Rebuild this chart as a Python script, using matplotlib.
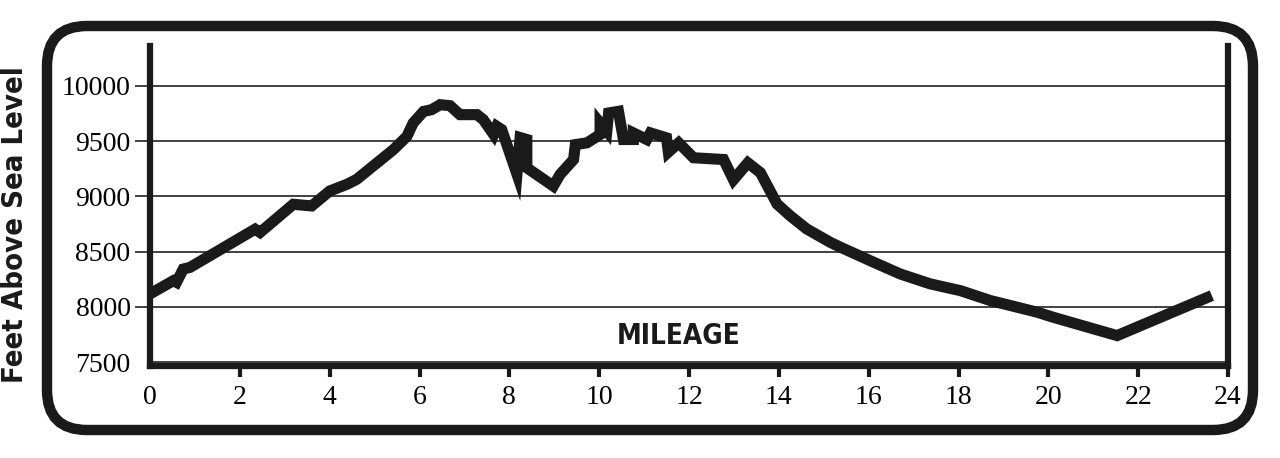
import matplotlib
matplotlib.use("Agg")
import matplotlib.pyplot as plt
from matplotlib import font_manager
from matplotlib.patches import FancyBboxPatch
from matplotlib.transforms import IdentityTransform

# elevation profile
miles = [0.0, 0.52, 0.59, 0.74, 0.89, 2.34, 2.45, 3.19, 3.6, 4.0, 4.38,
         4.6, 5.42, 5.72, 5.86, 6.09, 6.27, 6.46, 6.68, 6.9, 7.28, 7.42,
         7.65, 7.72, 7.83, 8.17, 8.24, 8.39, 8.39, 8.98, 9.13, 9.43, 9.47,
         9.73, 10.02, 10.02, 10.17, 10.21, 10.43, 10.54, 10.76, 10.76,
         11.06, 11.14, 11.5, 11.54, 11.77, 12.1, 12.77, 12.99, 13.31,
         13.59, 13.96, 14.25, 14.62, 15.14, 15.37, 16.11, 16.70, 17.37,
         18.04, 18.71, 19.75, 20.1, 21.53, 23.64]
feet = [8117, 8237, 8222, 8342, 8357, 8703, 8673, 8928, 8913, 9048, 9108,
        9153, 9423, 9543, 9664, 9768, 9784, 9829, 9820, 9739, 9739, 9694,
        9560, 9633, 9604, 9200, 9532, 9514, 9258, 9093, 9198, 9333, 9468,
        9484, 9559, 9664, 9589, 9754, 9769, 9514, 9514, 9574,
        9514, 9574, 9529, 9400, 9484, 9349, 9333, 9150, 9303,
        9214, 8931, 8825, 8705, 8585, 8540, 8404, 8298, 8208,
        8147, 8057, 7952, 7907, 7740, 8102]

x_ticks = [0, 2, 4, 6, 8, 10, 12, 14, 16, 18, 20, 22, 24]
y_ticks = [7500, 8000, 8500, 9000, 9500, 10000]

ink = "#1a1a1a"
serif = ["Liberation Serif", "DejaVu Serif"]

# look for an installed narrow face for the poster-style labels
narrow = None
for f in font_manager.fontManager.ttflist:
    if ("Condensed" in f.name or "Narrow" in f.name
            or f.stretch in ("condensed", "semi-condensed")):
        narrow = f.name
        break
if narrow:
    label_font = dict(family=[narrow, "DejaVu Sans"], fontstretch="condensed",
                      fontweight="bold")
else:
    label_font = dict(family=["Roboto", "DejaVu Sans"], fontweight="black")

fig = plt.figure(figsize=(12.8, 4.58), dpi=100)
ax = fig.add_axes([150 / 1280, 1 - 366 / 458, 1078 / 1280, 320 / 458])

ax.plot(miles, feet, color=ink, lw=8, solid_joinstyle="miter",
        solid_capstyle="butt")

ax.set_xlim(0, 24)
ax.set_ylim(7465, 10360)
ax.set_xticks(x_ticks)
ax.set_yticks(y_ticks)
ax.set_xticklabels([str(t) for t in x_ticks], family=serif, fontsize=20)
ax.set_yticklabels([str(t) for t in y_ticks], family=serif, fontsize=20)

ax.grid(axis="y", color="#333333", lw=1.3)
ax.set_axisbelow(True)
ax.tick_params(axis="y", length=11, width=1.3, color="#333333", pad=3)
ax.tick_params(axis="x", length=8, width=3, color=ink, pad=6)
ax.yaxis.get_major_ticks()[0].tick1line.set_visible(False)
ax.xaxis.get_major_ticks()[0].tick1line.set_visible(False)

ax.spines["top"].set_visible(False)
for side in ["left", "right", "bottom"]:
    ax.spines[side].set_linewidth(4.5)
    ax.spines[side].set_color(ink)

ax.text(0.49, 0.094, "MILEAGE", transform=ax.transAxes, ha="center",
        va="center", color=ink, fontsize=20, **label_font)
fig.text(15 / 1280, 1 - 225 / 458, "Feet Above Sea Level", rotation=90,
         ha="center", va="center", color=ink, fontsize=21, **label_font)

# rounded frame around the whole chart
frame = FancyBboxPatch((47, 28), 1206, 404,
                       boxstyle="round,pad=0,rounding_size=40",
                       transform=IdentityTransform(), lw=7.5, ec=ink,
                       fc="none")
fig.add_artist(frame)

fig.savefig("out.png", dpi=100)
